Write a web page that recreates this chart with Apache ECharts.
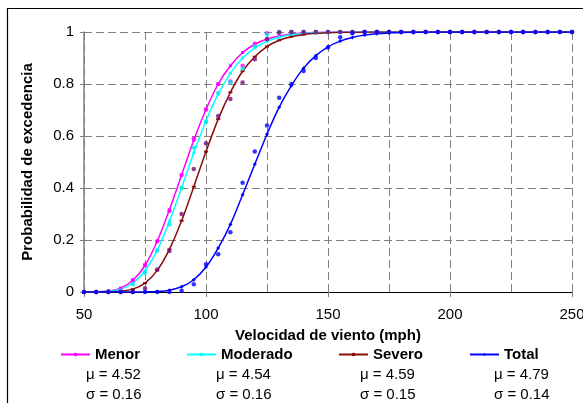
<!DOCTYPE html>
<html>
<head>
<meta charset="utf-8">
<script src="https://cdn.jsdelivr.net/npm/echarts@6/dist/echarts.min.js"></script>
<style>
html,body{margin:0;padding:0;background:#fff;overflow:hidden;}
#c{width:583px;height:403px;}
</style>
</head>
<body>
<div id="c"></div>
<script>
// Wind speeds (mph)
var speeds = [50,55,60,65,70,75,80,85,90,95,100,105,110,115,120,125,130,135,140,145,150,155,160,165,170,175,180,185,190,195,200,205,210,215,220,225,230,235,240,245,250];

// Fitted curves
var menorFit = [0.0001,0.0007,0.004,0.015,0.045,0.102,0.195,0.316,0.450,0.584,0.702,0.800,0.870,0.921,0.953,0.973,0.985,0.992,0.996,0.998,0.999,1,1,1,1,1,1,1,1,1,1,1,1,1,1,1,1,1,1,1,1];
var moderadoFit = [0,0.0005,0.003,0.011,0.034,0.082,0.161,0.272,0.401,0.535,0.658,0.761,0.841,0.900,0.939,0.964,0.980,0.989,0.994,0.997,0.998,0.999,1,1,1,1,1,1,1,1,1,1,1,1,1,1,1,1,1,1,1];
var severoFit = [0,0,0.0005,0.003,0.011,0.034,0.083,0.164,0.274,0.405,0.540,0.665,0.768,0.849,0.905,0.944,0.968,0.982,0.990,0.995,0.997,0.999,0.999,1,1,1,1,1,1,1,1,1,1,1,1,1,1,1,1,1,1];
var totalFit = [0,0,0,0,0,0.0004,0.002,0.007,0.020,0.047,0.096,0.169,0.260,0.374,0.491,0.607,0.711,0.794,0.861,0.909,0.943,0.965,0.979,0.988,0.993,0.996,0.998,0.999,0.9995,1,1,1,1,1,1,1,1,1,1,1,1];

var menorObs = [0,0,0.002,0.012,0.046,0.105,0.195,0.312,0.45,0.59,0.703,0.80,0.81,0.87,0.955,0.995,1,1,1,1,1,1,1,1,1,1,1,1,1,1,1,1,1,1,1,1,1,1,1,1,1];
var moderadoObs = [0,0,0,0.005,0.03,0.075,0.16,0.26,0.40,0.555,0.655,0.765,0.807,0.86,0.945,0.99,1,1,1,1,1,1,1,1,1,1,1,1,1,1,1,1,1,1,1,1,1,1,1,1,1];
var severoObs = [0,0,0,0,0,0.014,0.087,0.158,0.30,0.473,0.572,0.677,0.742,0.806,0.895,0.972,0.998,1,1,1,1,1,1,1,1,1,1,1,1,1,1,1,1,1,1,1,1,1,1,1,1];
var totalObs = [0,0,0,0,0,0,0,0,0.005,0.03,0.107,0.145,0.23,0.42,0.54,0.64,0.747,0.80,0.85,0.90,0.94,0.98,0.995,1,1,1,1,1,1,1,1,1,1,1,1,1,1,1,1,1,1];

var seriesNames = ['Menor','Moderado','Severo','Total'];
var muLabels = ['μ = 4.52','μ = 4.54','μ = 4.59','μ = 4.79'];
var sigmaLabels = ['σ = 0.16','σ = 0.16','σ = 0.15','σ = 0.14'];
var xTicks = [50,100,150,200,250];
var yTicks = [0,0.2,0.4,0.6,0.8,1];

var lineColors = ['#FF00FF','#00FFFF','#8B0A0A','#0000FF'];
var dotColors = ['#FF00FF','#00E8E8','#7A0A7A','#0000FF'];
var lineSymbols = ['rect','rect','rect','diamond'];
var lineSymbolSizes = [3,3,[4,2],4];
var fits = [menorFit, moderadoFit, severoFit, totalFit];
var obs = [menorObs, moderadoObs, severoObs, totalObs];

function pairs(arr){ return speeds.map(function(x,i){ return [x, arr[i]]; }); }

var FONT = '"Liberation Sans", Arial, sans-serif';
var series = [];
for (var k=0;k<4;k++){
  series.push({
    name: seriesNames[k], type:'line', data: pairs(fits[k]), smooth:0.35,
    symbol: lineSymbols[k], symbolSize: lineSymbolSizes[k], showSymbol:true,
    lineStyle:{color:lineColors[k], width:1.5}, itemStyle:{color:lineColors[k]},
    z:3, animation:false
  });
}
for (var k2=0;k2<4;k2++){
  series.push({
    name: seriesNames[k2]+' obs', type:'scatter', data: pairs(obs[k2]),
    symbol:'circle', symbolSize:4.5, itemStyle:{color:dotColors[k2]}, z:4, animation:false
  });
}

var legendLeft = [60,186,338,469];
var legends = seriesNames.map(function(n,i){
  return {
    data:[n], left:legendLeft[i], top:347, padding:0, itemWidth:29, itemHeight:4, itemGap:4,
    textStyle:{fontFamily:FONT, fontWeight:'bold', fontSize:15, color:'#000'},
    selectedMode:false
  };
});

var statX = [86,216,360,494];
var graphics = [
  {type:'rect', shape:{x:7.5,y:8.5,width:620,height:440}, style:{fill:null, stroke:'#000', lineWidth:1.2}, z:100, silent:true},
  {type:'text', x:28, y:162, rotation:Math.PI/2, style:{text:'Probabilidad de excedencia', font:'bold 15px '+FONT, fill:'#000', textAlign:'center', textVerticalAlign:'middle'}},
  {type:'text', x:328, y:336, style:{text:'Velocidad de viento (mph)', font:'bold 15px '+FONT, fill:'#000', textAlign:'center', textVerticalAlign:'middle'}}
];
for (var j=0;j<4;j++){
  graphics.push({type:'text', x:statX[j], y:375, style:{text:muLabels[j], font:'15px '+FONT, fill:'#000', textAlign:'left', textVerticalAlign:'middle'}});
  graphics.push({type:'text', x:statX[j], y:395, style:{text:sigmaLabels[j], font:'15px '+FONT, fill:'#000', textAlign:'left', textVerticalAlign:'middle'}});
}

var chart = echarts.init(document.getElementById('c'));
chart.setOption({
  backgroundColor:'#fff',
  animation:false,
  grid:{left:84, right:11, top:32, bottom:111, containLabel:false, outerBoundsMode:'none'},
  legend: legends,
  xAxis:{
    type:'value', min:xTicks[0], max:xTicks[xTicks.length-1], interval:50,
    axisLine:{show:true, onZero:false, lineStyle:{color:'#000', width:1}},
    axisTick:{show:true, length:5, lineStyle:{color:'#808080'}},
    axisLabel:{margin:15, fontFamily:FONT, fontSize:15, color:'#000', hideOverlap:false},
    splitLine:{show:true, lineStyle:{color:'#808080', type:[8,4], width:1}},
    minorTick:{show:false, splitNumber:2},
    minorSplitLine:{show:true, lineStyle:{color:'#808080', type:[8,4], width:1}}
  },
  yAxis:{
    type:'value', min:yTicks[0], max:yTicks[yTicks.length-1], interval:0.2,
    axisLine:{show:true, onZero:false, lineStyle:{color:'#808080', width:1.5}},
    axisTick:{show:true, length:4, lineStyle:{color:'#808080'}},
    axisLabel:{margin:10, fontFamily:FONT, fontSize:15, color:'#000'},
    splitLine:{show:true, lineStyle:{color:'#808080', type:[8,4], width:1}}
  },
  graphic: graphics,
  series: series
});
</script>
</body>
</html>
